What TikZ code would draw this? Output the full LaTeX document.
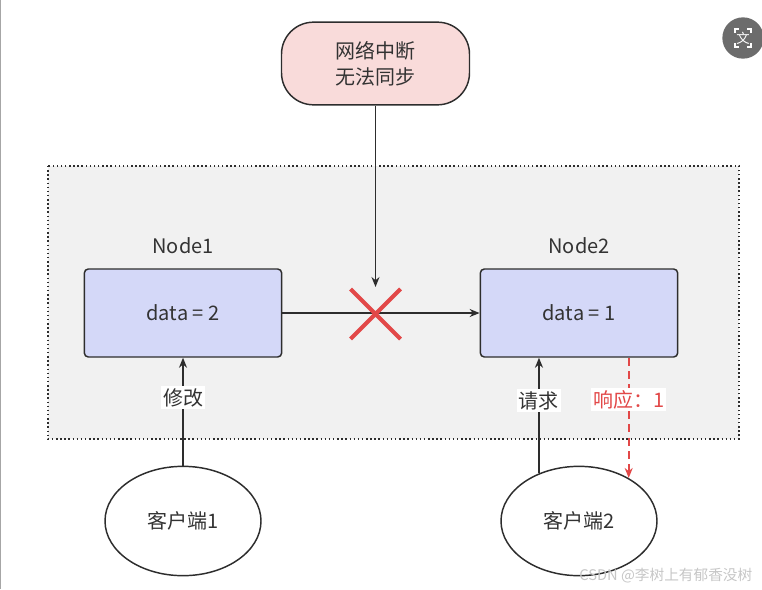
\documentclass[tikz,border=0pt]{standalone}
\usepackage{fontspec}
\setmainfont{Noto Sans CJK SC}
\usetikzlibrary{shapes.geometric, arrows.meta, positioning, calc}
\definecolor{boxblue}{RGB}{212, 216, 248}
\definecolor{cutpink}{RGB}{249, 219, 218}
\definecolor{zonegray}{RGB}{241, 241, 241}
\definecolor{crossred}{RGB}{226, 72, 72}
\definecolor{inkdark}{RGB}{45, 45, 45}
\definecolor{textdark}{RGB}{51, 51, 51}

\begin{document}
\begin{tikzpicture}[x=0.75pt, y=-0.75pt,
    font=\fontsize{15pt}{19.5pt}\selectfont, text=textdark,
    datanode/.style={draw=inkdark, fill=boxblue, line width=1.1pt, rounded corners=3pt,
      minimum width=148pt, minimum height=66pt, inner sep=0pt},
    clientnode/.style={draw=inkdark, fill=white, ellipse, line width=1.1pt,
      minimum width=117pt, minimum height=82pt, inner sep=0pt},
    flow/.style={draw=inkdark, line width=1.1pt, -{Stealth[length=7.5pt, width=6pt]}},
    reply/.style={draw=crossred, line width=1.3pt, dash pattern=on 6pt off 4pt,
      -{Stealth[length=7.5pt, width=6pt]}},
    tag/.style={fill=white, inner sep=1.5pt}]
  \useasboundingbox (0,0) rectangle (762,589);

  % Screen edge
  \draw[gray!70, line width=0.8pt] (0.5,0) -- (0.5,589);

  % Cluster zone
  \draw[inkdark, fill=zonegray, line width=1.1pt, dash pattern=on 1.1pt off 2pt]
    (48,166) rectangle (739,439);

  % Outage note
  \node[draw=inkdark, fill=cutpink, line width=1.1pt, rounded corners=24pt,
    minimum width=141pt, minimum height=62pt, align=center] (outage)
    at (375.5,63.5) {网络中断\\无法同步};

  % Data nodes
  \node[datanode] (node1) at (183,313) {data = 2};
  \node[datanode] (node2) at (579,313) {data = 1};
  \node[above=7pt of node1] (name1) {Node1};
  \node[above=7pt of node2] (name2) {Node2};

  % Clients
  \node[clientnode] (client1) at (183,521) {客户端1};
  \node[clientnode] (client2) at (579,521) {客户端2};

  % Sync link, cut by the outage
  \draw[flow] (node1) -- (node2);
  \coordinate (cutend) at (375.5,287);
  \draw[flow] (outage) -- (cutend);
  \coordinate (cut) at (375.5,314);
  \draw[crossred, line width=3pt]
    ($(cut)+(-25,-25)$) -- ($(cut)+(25,25)$)
    ($(cut)+(-25,25)$) -- ($(cut)+(25,-25)$);

  % Client traffic
  \draw[flow] (client1) -- node[tag, pos=0.63] {修改} (node1);
  \draw[flow] (client2.130) -- node[tag, pos=0.63] {请求} (client2.130 |- node2.south);
  \coordinate (resp) at ($(node2.south)!0.5!(node2.south east)$);
  \draw[reply] (resp) -- node[tag, pos=0.35, text=crossred] {响应：1} (resp |- client2.41);

  % Watermark
  \node[anchor=east, font=\fontsize{11pt}{12pt}\selectfont, text=gray!45] (mark)
    at (757,576) {CSDN @李树上有郁香没树};

  % Translate badge
  \fill[gray!85!black] (743,38) circle (15.5pt);
  \node[text=white, font=\fontsize{10pt}{11pt}\selectfont] (badge) at (743,38) {文};
  \draw[white, line width=0.8pt]
    (735,33) -- (735,29) -- (739,29) (747,29) -- (751,29) -- (751,33)
    (735,43) -- (735,47) -- (739,47) (747,47) -- (751,47) -- (751,43);
\end{tikzpicture}
\end{document}
